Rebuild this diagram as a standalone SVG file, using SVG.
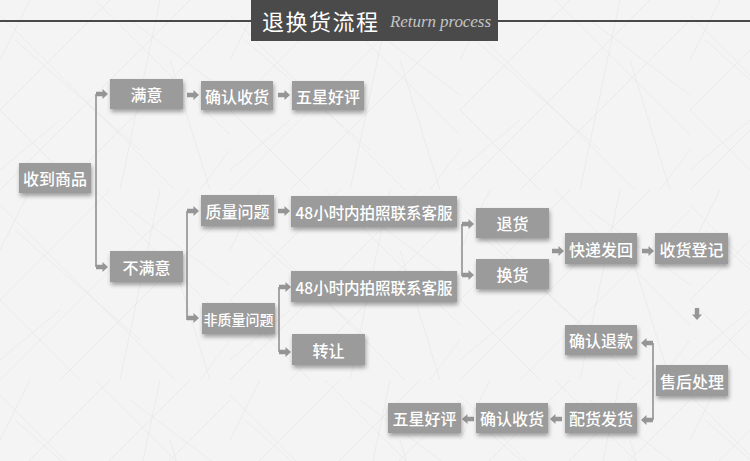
<svg xmlns="http://www.w3.org/2000/svg" xmlns:xlink="http://www.w3.org/1999/xlink" width="750" height="461" viewBox="0 0 750 461">
<style>
.box{fill:#9b9b9b;filter:url(#sh)}
.t{fill:#fff;font-family:"Noto Sans CJK SC","Noto Sans",sans-serif;font-size:16px;font-weight:500;text-anchor:middle;dominant-baseline:central}
.ln{stroke:#8a8a8a;stroke-width:1.5;fill:none}
.ar{fill:#959595}
.tex{stroke:#d2d2d2;stroke-width:0.5;fill:none}
</style>
<defs>
<filter id="sh" x="-20%" y="-30%" width="150%" height="180%">
<feDropShadow dx="1" dy="3" stdDeviation="2" flood-color="#000" flood-opacity="0.35"/>
</filter>
<path id="ar" d="M0,-2.2 H6.5 V-5 L12,0 L6.5,5 V2.2 H0 Z"/>
<pattern id="scr" width="230" height="190" patternUnits="userSpaceOnUse">
<path class="tex" d="M0,190 L190,0 M-40,150 L110,0 M60,190 L230,20 M0,15 L175,190 M0,110 L80,190 M95,0 L230,135 M30,0 L0,60 M160,0 L120,190 M200,190 L230,150 M15,40 L140,150 M130,20 L230,95 M0,170 L60,120 M170,60 L210,190"/>
</pattern>
</defs>
<rect width="750" height="461" fill="#f4f4f4"/>
<rect width="750" height="461" fill="url(#scr)" opacity="0.55"/>

<g id="header">
<line x1="0" y1="21" x2="750" y2="21" stroke="#111" stroke-width="1.5"/>
<rect x="251" y="0" width="247" height="41" fill="#4a4a4a"/>
<text x="262" y="30" fill="#fff" font-family="'Noto Sans CJK SC',sans-serif" font-size="22" textLength="116">退换货流程</text>
<text x="390" y="27" fill="#c4c4c4" font-family="'Liberation Serif',serif" font-style="italic" font-size="17" textLength="101">Return process</text>
</g>

<g id="connectors">
<path class="ln" d="M96,94 V267 M187,211 V320 M279,287 V352 M462,224 V276 M653,343 V420"/>
<g class="ar">
<use href="#ar" x="96" y="94"/>
<use href="#ar" x="96" y="267"/>
<use href="#ar" x="187" y="95"/>
<use href="#ar" x="278" y="95"/>
<use href="#ar" x="187" y="211"/>
<use href="#ar" x="187" y="318"/>
<use href="#ar" x="278" y="211"/>
<use href="#ar" x="279" y="287"/>
<use href="#ar" x="279" y="352"/>
<use href="#ar" x="462" y="224"/>
<use href="#ar" x="462" y="275"/>
<use href="#ar" x="552" y="251"/>
<use href="#ar" x="642" y="251"/>
<use href="#ar" transform="translate(697,308) rotate(90)"/>
<use href="#ar" transform="translate(653,343) rotate(180)"/>
<use href="#ar" transform="translate(653,420) rotate(180)"/>
<use href="#ar" transform="translate(562,419) rotate(180)"/>
<use href="#ar" transform="translate(474,419) rotate(180)"/>
</g>
</g>

<g id="n1"><rect class="box" x="19" y="163" width="72" height="30"/><text class="t" x="55" y="178">收到商品</text></g>
<g id="n2"><rect class="box" x="110" y="79" width="73" height="30"/><text class="t" x="146.5" y="94">满意</text></g>
<g id="n3"><rect class="box" x="201" y="81" width="72" height="29"/><text class="t" x="237" y="95.5">确认收货</text></g>
<g id="n4"><rect class="box" x="292" y="81" width="72" height="29"/><text class="t" x="328" y="95.5">五星好评</text></g>
<g id="n5"><rect class="box" x="110" y="251" width="73" height="31"/><text class="t" x="146.5" y="266.5">不满意</text></g>
<g id="n6"><rect class="box" x="201" y="195" width="73" height="31"/><text class="t" x="237.5" y="210.5">质量问题</text></g>
<g id="n7"><rect class="box" x="291" y="196" width="166" height="31"/><text class="t" x="374" y="211.5" textLength="157" lengthAdjust="spacingAndGlyphs">48小时内拍照联系客服</text></g>
<g id="n8"><rect class="box" x="202" y="303" width="73" height="31"/><text class="t" x="238.5" y="318.5" style="font-size:14px">非质量问题</text></g>
<g id="n9"><rect class="box" x="291" y="271" width="166" height="31"/><text class="t" x="374" y="286.5" textLength="157" lengthAdjust="spacingAndGlyphs">48小时内拍照联系客服</text></g>
<g id="n10"><rect class="box" x="292" y="334" width="73" height="31"/><text class="t" x="328.5" y="349.5">转让</text></g>
<g id="n11"><rect class="box" x="476" y="208" width="73" height="30"/><text class="t" x="512.5" y="223">退货</text></g>
<g id="n12"><rect class="box" x="476" y="259" width="73" height="30"/><text class="t" x="512.5" y="274">换货</text></g>
<g id="n13"><rect class="box" x="565" y="233" width="72" height="31"/><text class="t" x="601" y="248.5">快递发回</text></g>
<g id="n14"><rect class="box" x="655" y="233" width="73" height="31"/><text class="t" x="691.5" y="248.5">收货登记</text></g>
<g id="n15"><rect class="box" x="565" y="325" width="72" height="30"/><text class="t" x="601" y="340">确认退款</text></g>
<g id="n16"><rect class="box" x="656" y="365" width="72" height="31"/><text class="t" x="692" y="380.5">售后处理</text></g>
<g id="n17"><rect class="box" x="565" y="403" width="72" height="30"/><text class="t" x="601" y="418">配货发货</text></g>
<g id="n18"><rect class="box" x="476" y="403" width="72" height="30"/><text class="t" x="512" y="418">确认收货</text></g>
<g id="n19"><rect class="box" x="388" y="403" width="73" height="30"/><text class="t" x="424.5" y="418">五星好评</text></g>
</svg>
